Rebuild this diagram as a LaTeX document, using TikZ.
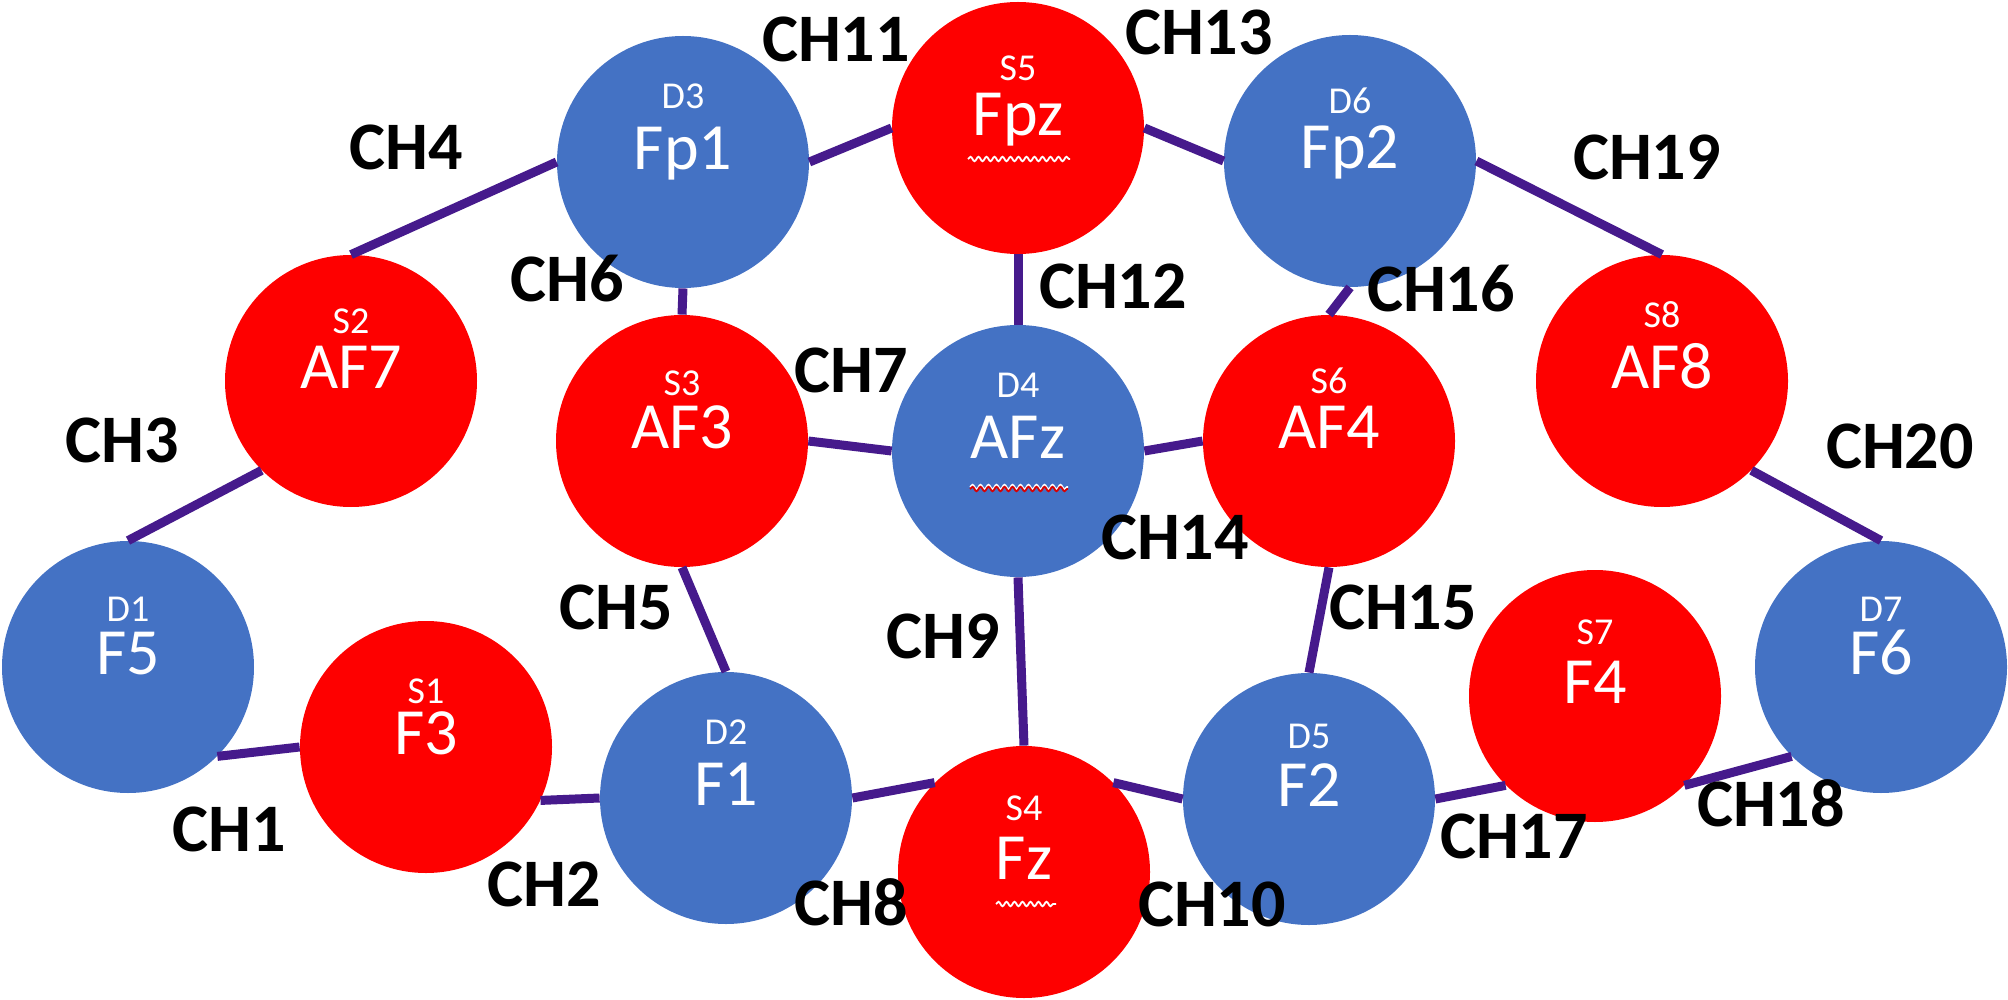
\documentclass[tikz,border=0pt]{standalone}
\usepackage{fontspec}
\setmainfont{Carlito}
\usetikzlibrary{decorations.pathmorphing}

\definecolor{detblue}{HTML}{4472C4}
\definecolor{srcred}{HTML}{FE0000}
\definecolor{wirepurple}{HTML}{461A8C}

\tikzset{
  elec/.style={circle, minimum size=126pt, inner sep=0pt, text=white,
    font=\fontsize{33}{33}\selectfont, text height=0.73em, text depth=0pt},
  det/.style={elec, fill=detblue},
  src/.style={elec, fill=srcred},
  tag/.style={inner sep=0pt, text=white, font=\fontsize{19}{19}\selectfont,
    text height=0.64em, text depth=0pt},
  chan/.style={inner sep=0pt, font=\bfseries\fontsize{34}{34}\selectfont,
    text height=0.64em, text depth=0pt},
  wire/.style={draw=wirepurple, line width=4.5pt},
  squig/.style={decorate, decoration={snake, segment length=4pt, amplitude=1.1pt},
    line width=0.9pt}
}

\begin{document}
\begin{tikzpicture}[x=0.5pt, y=-0.5pt]
        \useasboundingbox (0,0) rectangle (2008,1000);

        % Electrodes
        \node (f5)  [det] at (128,667)  {F5};
        \node (f3)  [src] at (426,747)  {F3};
        \node (af7) [src] at (351,381)  {AF7};
        \node (fp1) [det] at (683,162)  {Fp1};
        \node (af3) [src] at (682,441)  {AF3};
        \node (f1)  [det] at (726,798)  {F1};
        \node (fpz) [src] at (1018,128) {Fpz};
        \node (afz) [det] at (1018,451) {AFz};
        \node (fz)  [src] at (1024,872) {Fz};
        \node (fp2) [det] at (1350,161) {Fp2};
        \node (af4) [src] at (1329,441) {AF4};
        \node (f2)  [det] at (1309,799) {F2};
        \node (af8) [src] at (1662,381) {AF8};
        \node (f4)  [src] at (1595,696) {F4};
        \node (f6)  [det] at (1881,667) {F6};

        % Source / detector numbers
        \node (d1) [tag, yshift=26pt]   at (f5)  {D1};
        \node (s1) [tag, yshift=25pt]   at (f3)  {S1};
        \node (s2) [tag, yshift=27pt]   at (af7) {S2};
        \node (d3) [tag, yshift=30pt]   at (fp1) {D3};
        \node (s3) [tag, yshift=26pt]   at (af3) {S3};
        \node (d2) [tag, yshift=30pt]   at (f1)  {D2};
        \node (s5) [tag, yshift=27pt]   at (fpz) {S5};
        \node (d4) [tag, yshift=30pt]   at (afz) {D4};
        \node (s4) [tag, yshift=29pt]   at (fz)  {S4};
        \node (d6) [tag, yshift=27pt]   at (fp2) {D6};
        \node (s6) [tag, yshift=27pt]   at (af4) {S6};
        \node (d5) [tag, yshift=28.5pt] at (f2)  {D5};
        \node (s8) [tag, yshift=30pt]   at (af8) {S8};
        \node (s7) [tag, yshift=29pt]   at (f4)  {S7};
        \node (d7) [tag, yshift=26pt]   at (f6)  {D7};

        % Spell-check underlines
        \draw[squig, white] ([xshift=-25pt,yshift=-15.5pt]fpz.center) -- ([xshift=26pt,yshift=-15.5pt]fpz.center);
        \draw[squig, white] ([xshift=-24pt,yshift=-18pt]afz.center) -- ([xshift=25pt,yshift=-18pt]afz.center);
        \draw[squig, red!85!black] ([xshift=-24pt,yshift=-19pt]afz.center) -- ([xshift=25pt,yshift=-19pt]afz.center);
        \draw[squig, white] ([xshift=-14pt,yshift=-16pt]fz.center) -- ([xshift=16pt,yshift=-16pt]fz.center);

        % Channels
        \draw[wire] (f5.south east) -- (f3.west);
        \draw[wire] (f3.-25) -- (f1.west);
        \draw[wire] (f5.north) -- (af7.south west);
        \draw[wire] (af7.north) -- (fp1.west);
        \draw[wire] (af3.south) -- (f1.north);
        \draw[wire] (fp1.south) -- (af3.north);
        \draw[wire] (af3.east) -- (afz.west);
        \draw[wire] (f1.east) -- (fz.north west);
        \draw[wire] (afz.south) -- (fz.north);
        \draw[wire] (fz.north east) -- (f2.west);
        \draw[wire] (fp1.east) -- (fpz.west);
        \draw[wire] (fpz.south) -- (afz.north);
        \draw[wire] (fpz.east) -- (fp2.west);
        \draw[wire] (afz.east) -- (af4.west);
        \draw[wire] (af4.south) -- (f2.north);
        \draw[wire] (fp2.south) -- (af4.north);
        \draw[wire] (f2.east) -- (f4.south west);
        \draw[wire] (f4.south east) -- (f6.south west);
        \draw[wire] (fp2.east) -- (af8.north);
        \draw[wire] (af8.south east) -- (f6.north);

        % Channel labels
        \node (ch1)  [chan] at (229,845)  {CH1};
        \node (ch2)  [chan] at (544,900)  {CH2};
        \node (ch3)  [chan] at (122,456)  {CH3};
        \node (ch4)  [chan] at (406,163)  {CH4};
        \node (ch5)  [chan] at (616,623)  {CH5};
        \node (ch6)  [chan] at (567,295)  {CH6};
        \node (ch7)  [chan] at (851,386)  {CH7};
        \node (ch8)  [chan] at (851,919)  {CH8};
        \node (ch9)  [chan] at (943,652)  {CH9};
        \node (ch10) [chan] at (1212,920) {CH10};
        \node (ch11) [chan] at (836,55)   {CH11};
        \node (ch12) [chan] at (1113,302) {CH12};
        \node (ch13) [chan] at (1199,48)  {CH13};
        \node (ch14) [chan] at (1175,553) {CH14};
        \node (ch15) [chan] at (1403,623) {CH15};
        \node (ch16) [chan] at (1441,305) {CH16};
        \node (ch17) [chan] at (1514,852) {CH17};
        \node (ch18) [chan] at (1771,820) {CH18};
        \node (ch19) [chan] at (1647,173) {CH19};
        \node (ch20) [chan] at (1900,462) {CH20};
\end{tikzpicture}
\end{document}
